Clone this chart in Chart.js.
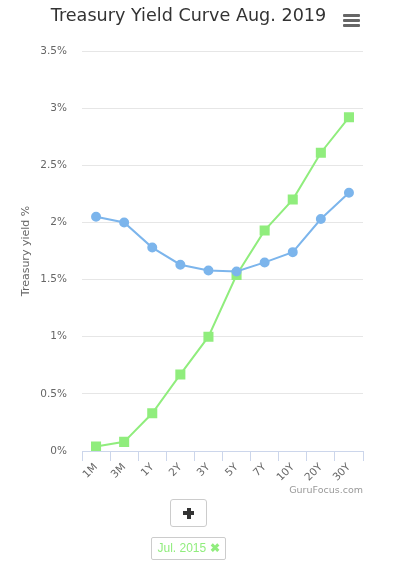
<!DOCTYPE html>
<html><head><meta charset="utf-8">
<script src="https://cdn.jsdelivr.net/npm/chart.js@4/dist/chart.umd.min.js"></script>
<style>
html,body{margin:0;padding:0;background:#fff;}
#wrap{position:relative;width:396px;height:563px;overflow:hidden;font-family:"DejaVu Sans",Verdana,sans-serif;}
#c{position:absolute;left:0;top:0;}
#title{position:absolute;left:0;width:377px;top:5px;text-align:center;font-size:17.6px;color:#333;white-space:nowrap;}
#menu{position:absolute;left:343px;top:14px;width:17px;}
#menu div{height:3px;background:#666;margin-bottom:2px;border-radius:1px;}
#credit{position:absolute;right:33px;top:484px;font-size:9.5px;color:#999;}
#plus{position:absolute;left:170px;top:499px;width:35px;height:26px;border:1px solid #ccc;border-radius:3px;}
#plus .h{position:absolute;left:12px;top:11px;width:11px;height:4px;background:#333;}
#plus .v{position:absolute;left:15.5px;top:7.5px;width:4px;height:11px;background:#333;}
#leg{position:absolute;left:151px;top:537px;width:73px;height:21px;border:1px solid #ccc;border-radius:2px;font-size:12px;color:#90ed7d;line-height:21px;text-align:center;font-family:"Liberation Sans",Arial,sans-serif;}
</style></head>
<body><div id="wrap">
<canvas id="c" width="396" height="563"></canvas>
<div id="title">Treasury Yield Curve Aug. 2019</div>
<div id="menu"><div></div><div></div><div></div></div>
<div id="credit">GuruFocus.com</div>
<div id="plus"><div class="h"></div><div class="v"></div></div>
<div id="leg">Jul. 2015 <b>✖</b></div>
</div>
<script>
const categories = ["1M","3M","1Y","2Y","3Y","5Y","7Y","10Y","20Y","30Y"];
const aug2019 = [2.05, 2.00, 1.78, 1.63, 1.58, 1.57, 1.65, 1.74, 2.03, 2.26];
const jul2015 = [0.04, 0.08, 0.33, 0.67, 1.00, 1.54, 1.93, 2.20, 2.61, 2.92];
const seriesNames = ["Aug. 2019", "Jul. 2015"];
const yTicks = [0, 0.5, 1, 1.5, 2, 2.5, 3, 3.5];

new Chart(document.getElementById('c'), {
  type: 'line',
  data: {
    labels: categories,
    datasets: [
      {label: seriesNames[0], data: aug2019, borderColor:'#7cb5ec', backgroundColor:'#7cb5ec',
       borderWidth:2, pointStyle:'circle', pointRadius:4, pointHoverRadius:4, tension:0, order:0},
      {label: seriesNames[1], data: jul2015, borderColor:'#90ed7d', backgroundColor:'#90ed7d',
       borderWidth:2, pointStyle:'rect', pointRadius:5.7, pointHoverRadius:5.7, tension:0, order:1}
    ]
  },
  options: {
    responsive:false, animation:false, devicePixelRatio:1,
    layout:{padding:{left:0,right:33,top:51,bottom:72}},
    plugins:{legend:{display:false}, tooltip:{enabled:false}, title:{display:false}},
    scales:{
      x:{
        offset:true,
        grid:{offset:true, drawOnChartArea:false, drawTicks:true, tickLength:10, color:'#ccd6eb', lineWidth:1},
        border:{display:true, color:'#ccd6eb', width:1},
        ticks:{color:'#666', font:{family:'"DejaVu Sans", Verdana, sans-serif', size:10.5}, minRotation:45, maxRotation:45, padding:0, autoSkip:false},
        afterFit: s => { s.height = 40; }
      },
      y:{
        min:0, max:3.5,
        afterBuildTicks: s => { s.ticks = yTicks.map(v => ({value:v})); },
        grid:{color:'#e6e6e6', drawTicks:false, lineWidth:1},
        border:{display:false},
        ticks:{color:'#666', padding:15, font:{family:'"DejaVu Sans", Verdana, sans-serif', size:10.5},
          callback: v => v + '%'},
        title:{display:true, text:'Treasury yield %', color:'#666', font:{family:'"DejaVu Sans", Verdana, sans-serif', size:11}, padding:{top:20}},
        afterFit: s => { s.width = 82; }
      }
    }
  }
});
</script>
</body></html>
